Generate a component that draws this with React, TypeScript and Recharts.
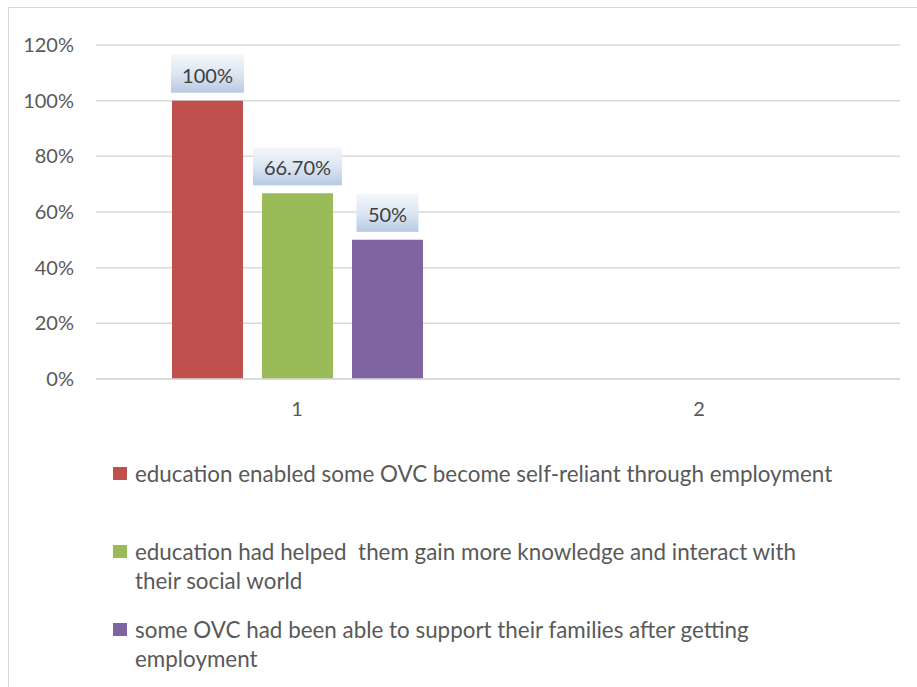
import React from "react"
import { BarChart, Bar, XAxis, YAxis, CartesianGrid, Legend, LabelList } from "recharts"

const categories = ["1", "2"]

const seriesNames = [
  "education enabled some OVC become self-reliant through employment",
  "education had helped  them gain more knowledge and interact with their social world",
  "some OVC had been able to support their families after getting employment",
]

const selfReliant = [1.0, null]
const knowledge = [0.667, null]
const supportFamilies = [0.5, null]

const selfReliantLabels = ["100%", ""]
const knowledgeLabels = ["66.70%", ""]
const supportFamiliesLabels = ["50%", ""]

const yTicks = [0, 0.2, 0.4, 0.6, 0.8, 1.0, 1.2]

const COLORS = ["#c0504d", "#9bbb59", "#8064a2"]
const FONT = "Lato, 'Open Sans', sans-serif"
const TEXT = "#595959"

const data = categories.map((c, i) => ({
  name: c,
  s0: selfReliant[i],
  s1: knowledge[i],
  s2: supportFamilies[i],
}))

// rough glyph widths so the label box hugs its text
const textWidth = (t: string) =>
  t.split("").reduce((w, ch) => w + (ch === "%" ? 16 : ch === "." ? 5 : 11), 0)

function makeLabel(labels: string[]) {
  return function BoxLabel(props: any) {
    const { x, y, width, index } = props
    const txt = labels[index]
    if (!txt) return null
    const cx = Number(x) + Number(width) / 2
    const w = textWidth(txt) + 24
    const h = 38
    const top = Number(y) - 8 - h
    return (
      <g>
        <rect x={cx - w / 2} y={top} width={w} height={h} fill="url(#lblGrad)" />
        <text
          x={cx}
          y={top + h / 2 + 1}
          textAnchor="middle"
          dominantBaseline="central"
          fontFamily={FONT}
          fontSize={20}
          fill="#404040"
        >
          {txt}
        </text>
      </g>
    )
  }
}

function LegendBox() {
  return (
    <div style={{ width: 730, height: 230, fontFamily: FONT, fontSize: 22.4, color: TEXT }}>
      {seriesNames.map((n, i) => (
        <div key={n} style={{ position: "relative", height: 78, paddingLeft: 22, lineHeight: "29px" }}>
          <span
            style={{
              position: "absolute",
              left: 0,
              top: 8,
              width: 14,
              height: 13,
              background: COLORS[i],
            }}
          />
          <div style={{ width: 700, whiteSpace: "pre-wrap" }}>{n}</div>
        </div>
      ))}
    </div>
  )
}

export default function App() {
  return (
    <div style={{ position: "absolute", left: 0, top: 0, width: 917, height: 687, overflow: "hidden", background: "#fff" }}>
      <div
        style={{
          position: "absolute",
          left: 8,
          top: 7,
          width: 940,
          height: 720,
          border: "1px solid #d9d9d9",
        }}
      />
      <div style={{ position: "absolute", left: 0, top: 0 }}>
        <BarChart
          width={917}
          height={687}
          data={data}
          margin={{ top: 45, right: 17, left: 0, bottom: 28 }}
          barSize={71}
          barGap={19}
        >
          <defs>
            <linearGradient id="lblGrad" x1="0" y1="0" x2="0" y2="1">
              <stop offset="0%" stopColor="#f4f7fb" />
              <stop offset="55%" stopColor="#dae4f1" />
              <stop offset="100%" stopColor="#b6cae3" />
            </linearGradient>
          </defs>
          <CartesianGrid vertical={false} stroke="#d9d9d9" strokeWidth={1.5} />
          <XAxis
            dataKey="name"
            height={50}
            axisLine={{ stroke: "#d9d9d9", strokeWidth: 1.5 }}
            tickLine={false}
            tickSize={0}
            tickMargin={23}
            tick={{ fill: TEXT, fontFamily: FONT, fontSize: 20 }}
          />
          <YAxis
            width={96}
            domain={[0, 1.2]}
            ticks={yTicks}
            tickFormatter={(v: number) => `${Math.round(v * 100)}%`}
            axisLine={false}
            tickLine={false}
            tickSize={0}
            tickMargin={22}
            tick={{ fill: TEXT, fontFamily: FONT, fontSize: 20 }}
          />
          <Bar dataKey="s0" name={seriesNames[0]} fill={COLORS[0]} isAnimationActive={false}>
            <LabelList dataKey="s0" content={makeLabel(selfReliantLabels)} />
          </Bar>
          <Bar dataKey="s1" name={seriesNames[1]} fill={COLORS[1]} isAnimationActive={false}>
            <LabelList dataKey="s1" content={makeLabel(knowledgeLabels)} />
          </Bar>
          <Bar dataKey="s2" name={seriesNames[2]} fill={COLORS[2]} isAnimationActive={false}>
            <LabelList dataKey="s2" content={makeLabel(supportFamiliesLabels)} />
          </Bar>
          <Legend
            verticalAlign="bottom"
            content={() => <LegendBox />}
            wrapperStyle={{ left: 113, top: 459, width: 730, height: 230 }}
          />
        </BarChart>
      </div>
    </div>
  )
}
